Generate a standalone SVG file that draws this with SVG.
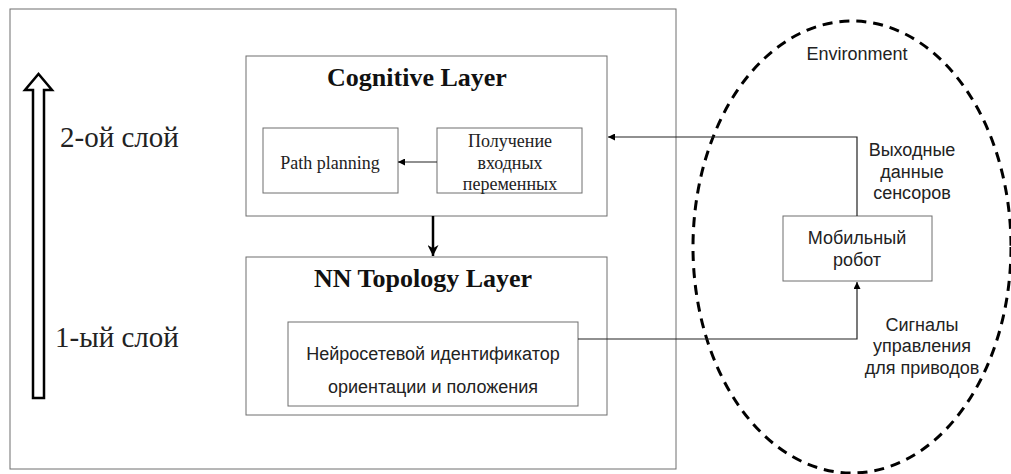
<svg xmlns="http://www.w3.org/2000/svg" width="1011" height="474" viewBox="0 0 1011 474">
<defs>
<marker id="ah" viewBox="0 0 10 10" refX="10" refY="5" markerWidth="7" markerHeight="7" markerUnits="userSpaceOnUse" orient="auto"><path d="M0,0 L10,5 L0,10 Z" fill="#000"/></marker>
<marker id="ahb" viewBox="0 0 10 10" refX="10" refY="5" markerWidth="11" markerHeight="11" markerUnits="userSpaceOnUse" orient="auto"><path d="M0,0 L10,5 L0,10 L3,5 Z" fill="#000"/></marker>
</defs>
<style>
.box{fill:#fff;stroke:#6e6e6e;stroke-width:1}
.serif{font-family:"Liberation Serif",serif;fill:#222}
.sans{font-family:"Liberation Sans",Arial,sans-serif;fill:#222}
.title{font-family:"Liberation Serif",serif;font-weight:bold;font-size:26px;fill:#111}
.conn{fill:none;stroke:#222;stroke-width:1.2}
</style>
<rect width="1011" height="474" fill="#fff"/>
<g id="outer"><rect class="box" x="10" y="9" width="666" height="460"/></g>
<g id="layer-arrow">
<path d="M33,398 L44,398 L44,90 L52,90 L38.5,74 L25,90 L33,90 Z" fill="#fff" stroke="#000" stroke-width="2.5" stroke-linejoin="miter"/>
<text class="serif" x="60" y="147" font-size="29">2-ой слой</text>
<text class="serif" x="55" y="347" font-size="29">1-ый слой</text>
</g>
<g id="environment">
<ellipse cx="852" cy="247" rx="159" ry="226" fill="none" stroke="#000" stroke-width="3" stroke-dasharray="10 7"/>
<text class="sans" x="857" y="60" font-size="18" text-anchor="middle">Environment</text>
</g>
<g id="cognitive">
<rect class="box" x="246" y="56" width="361" height="160"/>
<text class="title" x="417" y="86" text-anchor="middle">Cognitive Layer</text>
</g>
<g id="path-planning">
<rect class="box" x="263" y="128" width="135" height="65"/>
<text class="serif" x="330" y="169" font-size="18" text-anchor="middle">Path planning</text>
</g>
<g id="inputs">
<rect class="box" x="437" y="128" width="145" height="65"/>
<text class="serif" font-size="18" text-anchor="middle"><tspan x="510" y="147">Получение</tspan><tspan x="510" y="169">входных</tspan><tspan x="510" y="190">переменных</tspan></text>
</g>
<g id="nn">
<rect class="box" x="246" y="257" width="361" height="158"/>
<text class="title" x="423" y="287" text-anchor="middle">NN Topology Layer</text>
</g>
<g id="identifier">
<rect class="box" x="288" y="322" width="290" height="84"/>
<text class="sans" font-size="18" text-anchor="middle"><tspan x="433" y="360">Нейросетевой идентификатор</tspan><tspan x="433" y="393">ориентации и положения</tspan></text>
</g>
<g id="robot">
<rect class="box" x="783" y="216" width="149" height="65"/>
<text class="sans" font-size="18" text-anchor="middle"><tspan x="857" y="244">Мобильный</tspan><tspan x="857" y="266">робот</tspan></text>
</g>
<g id="connectors">
<path class="conn" d="M437,162 L398,162" marker-end="url(#ah)"/>
<path d="M433,216 L433,256" fill="none" stroke="#000" stroke-width="2.5" marker-end="url(#ahb)"/>
<path class="conn" d="M857,216 L857,137 L608,137" marker-end="url(#ah)"/>
<path class="conn" d="M578,339 L857,339 L857,282" marker-end="url(#ah)"/>
</g>
<g id="labels">
<text class="sans" font-size="18" text-anchor="middle"><tspan x="912" y="156">Выходные</tspan><tspan x="912" y="178">данные</tspan><tspan x="912" y="199">сенсоров</tspan></text>
<text class="sans" font-size="18" text-anchor="middle"><tspan x="922" y="331">Сигналы</tspan><tspan x="922" y="352">управления</tspan><tspan x="922" y="374">для приводов</tspan></text>
</g>
</svg>
